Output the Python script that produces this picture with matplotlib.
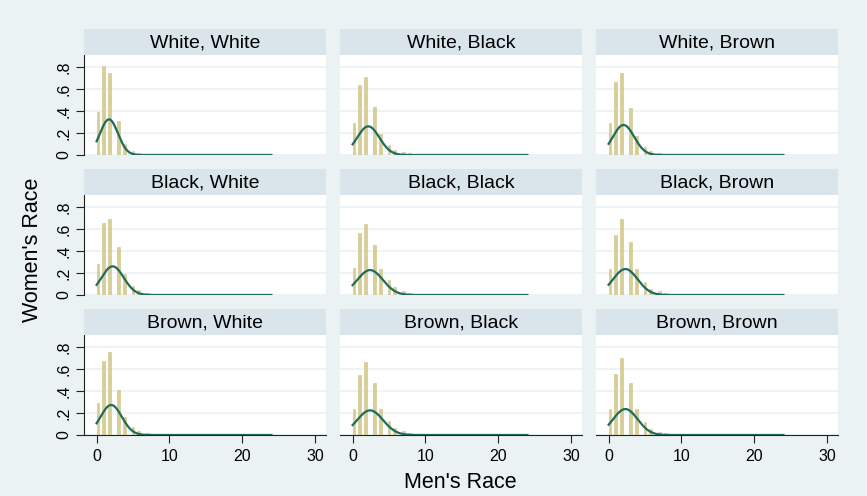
import matplotlib.pyplot as plt
import numpy as np

# Histogram of men's race by couple race, density scale, with normal overlay
plt.rcParams['font.family'] = ['Liberation Sans', 'DejaVu Sans']

panel_titles = ['White, White', 'White, Black', 'White, Brown',
                'Black, White', 'Black, Black', 'Black, Brown',
                'Brown, White', 'Brown, Black', 'Brown, Brown']

# bin centres of the non-empty bins (men's race)
bar_x = [0.2, 1.0, 1.8, 3.0, 3.8, 5.0, 5.8, 7.0, 7.8]

# densities
white_white = [0.394, 0.81, 0.75, 0.31, 0.097, 0.036, 0.018, 0.012, 0.006]
white_black = [0.294, 0.64, 0.706, 0.433, 0.19, 0.09, 0.05, 0.027, 0.015]
white_brown = [0.294, 0.66, 0.75, 0.427, 0.17, 0.073, 0.036, 0.018, 0.012]
black_white = [0.28, 0.655, 0.69, 0.44, 0.19, 0.08, 0.045, 0.02, 0.01]
black_black = [0.25, 0.56, 0.65, 0.455, 0.24, 0.133, 0.07, 0.036, 0.02]
black_brown = [0.236, 0.55, 0.69, 0.48, 0.24, 0.115, 0.058, 0.033, 0.015]
brown_white = [0.29, 0.67, 0.755, 0.41, 0.16, 0.07, 0.036, 0.018, 0.01]
brown_black = [0.233, 0.545, 0.66, 0.47, 0.24, 0.13, 0.06, 0.033, 0.015]
brown_brown = [0.236, 0.557, 0.70, 0.476, 0.236, 0.12, 0.058, 0.027, 0.015]
heights = [white_white, white_black, white_brown,
           black_white, black_black, black_brown,
           brown_white, brown_black, brown_brown]

# normal-density overlay parameters (mean, sd) and data range
curve_mean = [1.7, 2.15, 2.05, 2.2, 2.4, 2.3, 2.0, 2.4, 2.3]
curve_sd = [1.23, 1.53, 1.46, 1.53, 1.76, 1.69, 1.46, 1.78, 1.69]
x_min, x_max = 0, 24

yticks = [0, 0.2, 0.4, 0.6, 0.8]
ytick_labels = ['0', '.2', '.4', '.6', '.8']
xticks = [0, 10, 20, 30]

BG = '#EAF2F3'
STRIP = '#D9E5EA'
BAR = '#D8CD94'
BAR_EDGE = '#CFC386'
LINE = '#1E6B5E'

W, H = 867, 496
fig = plt.figure(figsize=(W / 100, H / 100), dpi=100)
fig.patch.set_facecolor(BG)

col_left = [84, 340, 596]
plot_top = [55, 195, 335]
pw, ph, sh = 242, 100, 26

for i, title in enumerate(panel_titles):
    r, c = divmod(i, 3)
    x0, y0 = col_left[c], plot_top[r]
    ax = fig.add_axes([x0 / W, 1 - (y0 + ph) / H, pw / W, ph / H])
    sax = fig.add_axes([x0 / W, 1 - y0 / H, pw / W, sh / H])
    sax.set_facecolor(STRIP)
    sax.set_xticks([])
    sax.set_yticks([])
    for s in sax.spines.values():
        s.set_visible(False)
    sax.text(0.5, 0.45, title, ha='center', va='center', fontsize=14,
             transform=sax.transAxes)

    ax.set_facecolor('white')
    ax.bar(bar_x, heights[i], width=0.38, color=BAR, edgecolor=BAR_EDGE,
           linewidth=0.4, zorder=2)
    xs = np.linspace(x_min, x_max, 300)
    m, sd = curve_mean[i], curve_sd[i]
    ax.plot(xs, np.exp(-0.5 * ((xs - m) / sd) ** 2) / (sd * np.sqrt(2 * np.pi)),
            color=LINE, linewidth=1.6, zorder=3)

    ax.set_xlim(-1.73, 31.5)
    ax.set_ylim(0, 0.91)
    ax.set_yticks(yticks)
    ax.yaxis.grid(True, color=BG, linewidth=1.2, zorder=0)
    ax.set_axisbelow(True)
    for s in ('top', 'right'):
        ax.spines[s].set_visible(False)
    ax.spines['left'].set_visible(c == 0)
    ax.spines['bottom'].set_visible(r == 2)
    ax.spines['left'].set_color('#222222')
    ax.spines['bottom'].set_color('#222222')

    ax.set_xticks(xticks)
    if c == 0:
        ax.set_yticklabels(ytick_labels, rotation=90, va='center', fontsize=11.5)
        ax.tick_params(axis='y', length=6, width=0.8, pad=3, color='#222222')
    else:
        ax.tick_params(axis='y', length=0, labelleft=False)
    if r == 2:
        ax.tick_params(axis='x', length=6, width=0.8, pad=4, labelsize=11.5,
                       color='#222222')
    else:
        ax.tick_params(axis='x', length=0, labelbottom=False)

fig.text(33 / W, 1 - 250 / H, "Women's Race", rotation=90, ha='center',
         va='center', fontsize=15.5)
fig.text(460 / W, 1 - 483 / H, "Men's Race", ha='center', va='center',
         fontsize=15.5)

fig.savefig('out.png', dpi=100, facecolor=BG)
